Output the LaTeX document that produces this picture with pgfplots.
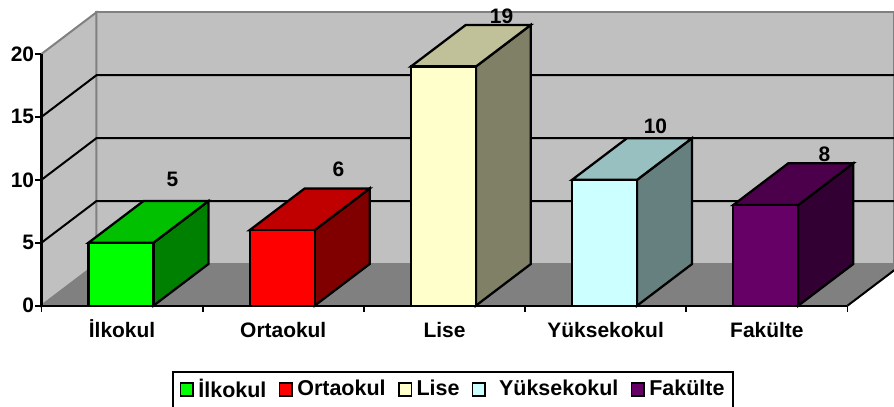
\documentclass[border=0pt]{standalone}
\usepackage{fontspec}
\setmainfont{Liberation Sans}
\usepackage{pgfplots}
\pgfplotsset{compat=1.18}
\newcommand{\chartfont}{\fontsize{15.7pt}{18pt}\selectfont\bfseries}
\newcommand{\legendfont}{\fontsize{16.1pt}{18pt}\selectfont\bfseries}
\definecolor{wall}{HTML}{C0C0C0}
\definecolor{floorc}{HTML}{808080}
\definecolor{edge}{HTML}{808080}
\definecolor{aF}{HTML}{00FF00}\definecolor{aT}{HTML}{00C000}\definecolor{aS}{HTML}{008000}
\definecolor{bF}{HTML}{FF0000}\definecolor{bT}{HTML}{C00000}\definecolor{bS}{HTML}{800000}
\definecolor{cF}{HTML}{FFFFCC}\definecolor{cT}{HTML}{C0C099}\definecolor{cS}{HTML}{808066}
\definecolor{dF}{HTML}{CCFFFF}\definecolor{dT}{HTML}{99C0C0}\definecolor{dS}{HTML}{668080}
\definecolor{eF}{HTML}{660066}\definecolor{eT}{HTML}{4C004C}\definecolor{eS}{HTML}{330033}
\begin{document}
\begin{tikzpicture}
\useasboundingbox (0,0) rectangle (670.5pt,305.25pt);
\begin{axis}[
  at={(31.1pt,76pt)}, anchor=south west,
  scale only axis, width=604.5pt, height=188.775pt,
  xmin=0, xmax=5, ymin=0, ymax=20,
  clip=false, axis on top=true,
  axis x line=bottom, axis y line=left,
  axis line style={-, line width=1.6pt, black},
  tick style={line width=1.4pt, black},
  major tick length=4.5pt,
  tick align=outside,
  xtick={0,1,2,3,4,5},
  x tick label as interval,
  xticklabels={İlkokul,Ortaokul,Lise,Yüksekokul,Fakülte},
  ytick={0,5,10,15,20},
  /pgf/number format/assume math mode=true,
  tick label style={font=\chartfont},
  x tick label style={yshift=-2pt, text height=14pt, text depth=3pt},
  y tick label style={xshift=2.5pt},
  legend columns=5,
  legend image code/.code={\draw[#1,draw=black,line width=1.2pt] (0pt,6pt) rectangle (9.5pt,15.5pt);},
  legend style={
    at={(axis cs:0.8127,-5.19)}, anchor=north west,
    draw=black, line width=1.5pt, fill=white,
    font=\legendfont, inner xsep=4.75pt, inner ysep=2pt,
    /tikz/every even column/.append style={column sep=7.25pt},
    /tikz/every odd column/.append style={column sep=1.25pt},
    nodes={inner xsep=2pt, inner ysep=3pt, text depth=24pt}
  },
]
% walls and floor
\addplot[forget plot, fill=wall, draw=edge, line width=1.5pt] coordinates {(0.341,3.31)(5.2916,3.31)(5.2916,23.31)(0.341,23.31)} -- cycle;
\addplot[forget plot, fill=wall, draw=edge, line width=1.5pt] coordinates {(0,0)(0.341,3.31)(0.341,23.31)(0,20)} -- cycle;
\addplot[forget plot, fill=floorc, draw=edge, line width=1pt] coordinates {(0,0)(5,0)(5.2916,2.83)(5.2916,3.31)(0.341,3.31)} -- cycle;
\addplot[forget plot, black, line width=1.5pt] coordinates {(5,0)(5.2916,2.83)};
% gridlines
\addplot[forget plot, black, line width=1.5pt] coordinates {(0,5)(0.341,8.31)(5.2916,8.31)};
\addplot[forget plot, black, line width=1.5pt] coordinates {(0,10)(0.341,13.31)(5.2916,13.31)};
\addplot[forget plot, black, line width=1.5pt] coordinates {(0,15)(0.341,18.31)(5.2916,18.31)};
% bar 1
\addplot[forget plot, fill=aS, draw=black, line width=1.7pt] coordinates {(0.6948,0)(1.0358,3.31)(1.0358,8.31)(0.6948,5)} -- cycle;
\addplot[forget plot, fill=aT, draw=black, line width=1.7pt] coordinates {(0.2916,5)(0.6948,5)(1.0358,8.31)(0.6326,8.31)} -- cycle;
\addplot[fill=aF, draw=black, line width=1.7pt] coordinates {(0.2916,0)(0.6948,0)(0.6948,5)(0.2916,5)} -- cycle;
% bar 2
\addplot[forget plot, fill=bS, draw=black, line width=1.7pt] coordinates {(1.6948,0)(2.0358,3.31)(2.0358,9.31)(1.6948,6)} -- cycle;
\addplot[forget plot, fill=bT, draw=black, line width=1.7pt] coordinates {(1.2916,6)(1.6948,6)(2.0358,9.31)(1.6326,9.31)} -- cycle;
\addplot[fill=bF, draw=black, line width=1.7pt] coordinates {(1.2916,0)(1.6948,0)(1.6948,6)(1.2916,6)} -- cycle;
% bar 3
\addplot[forget plot, fill=cS, draw=black, line width=1.7pt] coordinates {(2.6948,0)(3.0358,3.31)(3.0358,22.31)(2.6948,19)} -- cycle;
\addplot[forget plot, fill=cT, draw=black, line width=1.7pt] coordinates {(2.2916,19)(2.6948,19)(3.0358,22.31)(2.6326,22.31)} -- cycle;
\addplot[fill=cF, draw=black, line width=1.7pt] coordinates {(2.2916,0)(2.6948,0)(2.6948,19)(2.2916,19)} -- cycle;
% bar 4
\addplot[forget plot, fill=dS, draw=black, line width=1.7pt] coordinates {(3.6948,0)(4.0358,3.31)(4.0358,13.31)(3.6948,10)} -- cycle;
\addplot[forget plot, fill=dT, draw=black, line width=1.7pt] coordinates {(3.2916,10)(3.6948,10)(4.0358,13.31)(3.6326,13.31)} -- cycle;
\addplot[fill=dF, draw=black, line width=1.7pt] coordinates {(3.2916,0)(3.6948,0)(3.6948,10)(3.2916,10)} -- cycle;
% bar 5
\addplot[forget plot, fill=eS, draw=black, line width=1.7pt] coordinates {(4.6948,0)(5.0358,3.31)(5.0358,11.31)(4.6948,8)} -- cycle;
\addplot[forget plot, fill=eT, draw=black, line width=1.7pt] coordinates {(4.2916,8)(4.6948,8)(5.0358,11.31)(4.6326,11.31)} -- cycle;
\addplot[fill=eF, draw=black, line width=1.7pt] coordinates {(4.2916,0)(4.6948,0)(4.6948,8)(4.2916,8)} -- cycle;
% value labels
\addplot[forget plot, only marks, mark=none, point meta=explicit symbolic,
  nodes near coords, nodes near coords style={anchor=center, font=\chartfont, inner sep=0pt}]
  coordinates {(0.813,10.07)[5] (1.842,10.86)[6] (2.854,23.02)[19] (3.809,14.28)[10] (4.857,12.05)[8]};
\legend{İlkokul,Ortaokul,Lise\hspace{4.5pt},\hspace{6.5pt}Yüksekokul\hspace{-8pt},Fakülte\hspace{8pt}}
\end{axis}
\end{tikzpicture}
\end{document}
